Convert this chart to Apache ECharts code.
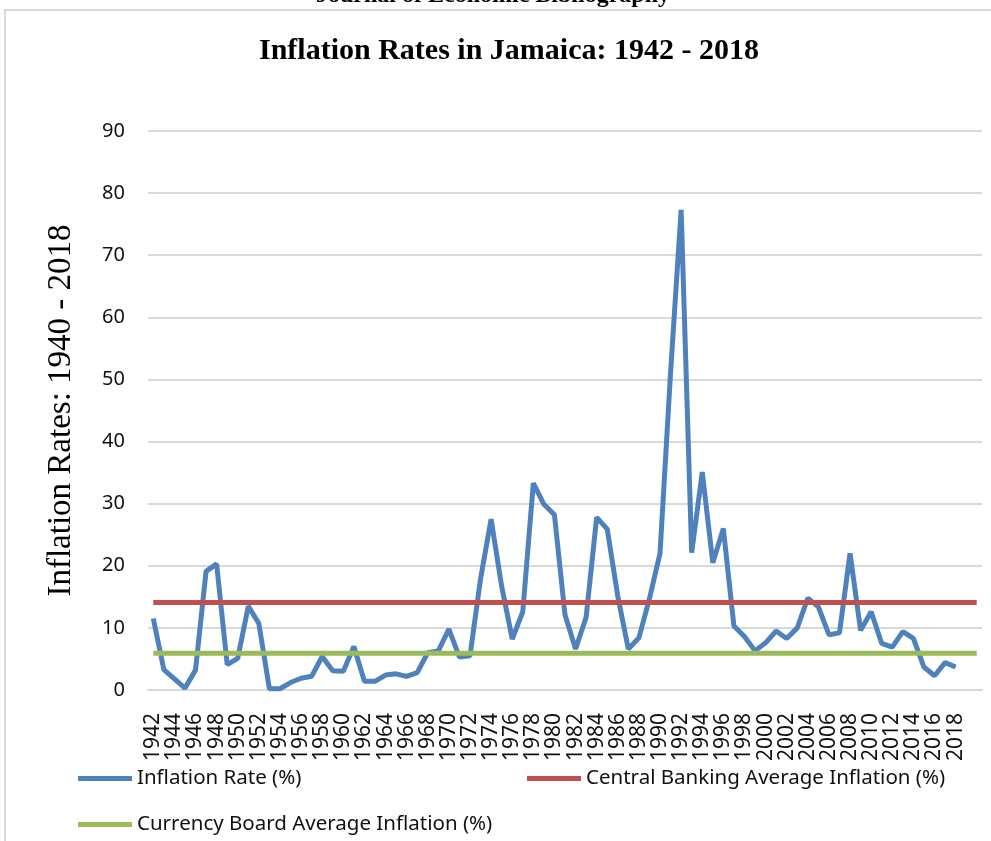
<!DOCTYPE html>
<html>
<head>
<meta charset="utf-8">
<title>Inflation Rates in Jamaica</title>
<script src="https://cdn.jsdelivr.net/npm/echarts@6/dist/echarts.min.js"></script>
<style>
  html, body { margin: 0; padding: 0; background: #fff; }
  #chart { width: 991px; height: 841px; }
</style>
</head>
<body>
<div id="chart"></div>
<script>
// years on the category axis (two trailing empty slots, as in the source sheet)
var years = [
  '1942', '1943', '1944', '1945', '1946', '1947', '1948', '1949', '1950', '1951',
  '1952', '1953', '1954', '1955', '1956', '1957', '1958', '1959', '1960', '1961',
  '1962', '1963', '1964', '1965', '1966', '1967', '1968', '1969', '1970', '1971',
  '1972', '1973', '1974', '1975', '1976', '1977', '1978', '1979', '1980', '1981',
  '1982', '1983', '1984', '1985', '1986', '1987', '1988', '1989', '1990', '1991',
  '1992', '1993', '1994', '1995', '1996', '1997', '1998', '1999', '2000', '2001',
  '2002', '2003', '2004', '2005', '2006', '2007', '2008', '2009', '2010', '2011',
  '2012', '2013', '2014', '2015', '2016', '2017', '2018', '', ''
];

// annual inflation (%), 1942 - 2018
var inflationRate = [
  11.5, 3.3, 1.8, 0.3, 3.2, 19.1, 20.3, 4.1, 5.1, 13.5,
  10.7, 0.2, 0.2, 1.2, 1.9, 2.2, 5.4, 3.1, 3.0, 7.0,
  1.4, 1.4, 2.4, 2.6, 2.2, 2.8, 6.0, 6.3, 9.8, 5.3,
  5.5, 17.9, 27.5, 16.7, 8.2, 12.6, 33.3, 29.9, 28.2, 12.1,
  6.6, 11.7, 27.8, 25.9, 15.1, 6.6, 8.4, 14.7, 22.0, 51.1,
  77.3, 22.1, 35.1, 20.5, 26.0, 10.3, 8.6, 6.3, 7.6, 9.5,
  8.3, 10.0, 14.8, 13.4, 8.9, 9.2, 22.0, 9.6, 12.6, 7.5,
  6.9, 9.4, 8.3, 3.7, 2.3, 4.4, 3.7, null, null
];

var centralBankingAvg = 14.1;
var currencyBoardAvg = 5.9;

var seriesNames = [
  'Inflation Rate (%)',
  'Central Banking Average Inflation (%)',
  'Currency Board Average Inflation (%)'
];
var seriesColors = ['#4F81BD', '#C0504D', '#9BBB59'];

var chart = echarts.init(document.getElementById('chart'));

var legendText = { fontFamily: 'Noto Sans', fontSize: 20.5, color: '#111' };

function legendFor(name, left, top) {
  return {
    data: [name],
    left: left,
    top: top,
    padding: 0,
    icon: 'rect',
    itemWidth: 54,
    itemHeight: 5,
    textStyle: legendText,
    selectedMode: false
  };
}

var option = {
  backgroundColor: '#fff',
  animation: false,
  title: {
    text: 'Inflation Rates in Jamaica: 1942 - 2018',
    left: 254,
    top: 31,
    textStyle: {
      fontFamily: 'Liberation Serif',
      fontWeight: 'bold',
      fontSize: 30,
      color: '#000'
    }
  },
  graphic: [
    {
      type: 'polyline',
      shape: { points: [[5, 841], [5, 10], [991, 10]] },
      style: { stroke: '#d9d9d9', lineWidth: 2, fill: null }
    },
    {
      type: 'text',
      x: 493,
      y: 8,
      style: {
        text: 'Journal of Economic Bibliography',
        fontFamily: 'Liberation Serif',
        fontWeight: 'bold',
        fontSize: 24,
        fill: '#000',
        textAlign: 'center',
        textVerticalAlign: 'bottom'
      }
    }
  ],
  legend: [
    legendFor(seriesNames[0], 78, 768),
    legendFor(seriesNames[1], 527, 768),
    legendFor(seriesNames[2], 78, 814)
  ],
  grid: {
    left: 148,
    right: 9,
    top: 131,
    bottom: 151,
    containLabel: false
  },
  xAxis: {
    type: 'category',
    data: years,
    boundaryGap: true,
    axisLine: { lineStyle: { color: '#d9d9d9', width: 2 } },
    axisTick: { show: false },
    axisLabel: {
      interval: 1,
      rotate: 90,
      margin: 23,
      fontFamily: 'Noto Sans',
      fontSize: 21,
      color: '#111'
    }
  },
  yAxis: {
    type: 'value',
    min: 0,
    max: 90,
    interval: 10,
    name: 'Inflation Rates: 1940 - 2018',
    nameLocation: 'middle',
    nameGap: 70,
    nameTextStyle: {
      fontFamily: 'Liberation Serif',
      fontSize: 33,
      color: '#000'
    },
    axisLine: { show: false },
    axisTick: { show: false },
    axisLabel: {
      margin: 23,
      fontFamily: 'Noto Sans',
      fontSize: 20,
      color: '#111'
    },
    splitLine: { lineStyle: { color: '#d9d9d9', width: 2 } }
  },
  series: [
    {
      name: seriesNames[0],
      type: 'line',
      data: inflationRate,
      symbol: 'none',
      color: seriesColors[0],
      lineStyle: { width: 5, color: seriesColors[0] }
    },
    {
      name: seriesNames[1],
      type: 'line',
      data: years.map(function () { return centralBankingAvg; }),
      symbol: 'none',
      color: seriesColors[1],
      lineStyle: { width: 5, color: seriesColors[1] }
    },
    {
      name: seriesNames[2],
      type: 'line',
      data: years.map(function () { return currencyBoardAvg; }),
      symbol: 'none',
      color: seriesColors[2],
      lineStyle: { width: 5, color: seriesColors[2] }
    }
  ]
};

chart.setOption(option);
</script>
</body>
</html>
